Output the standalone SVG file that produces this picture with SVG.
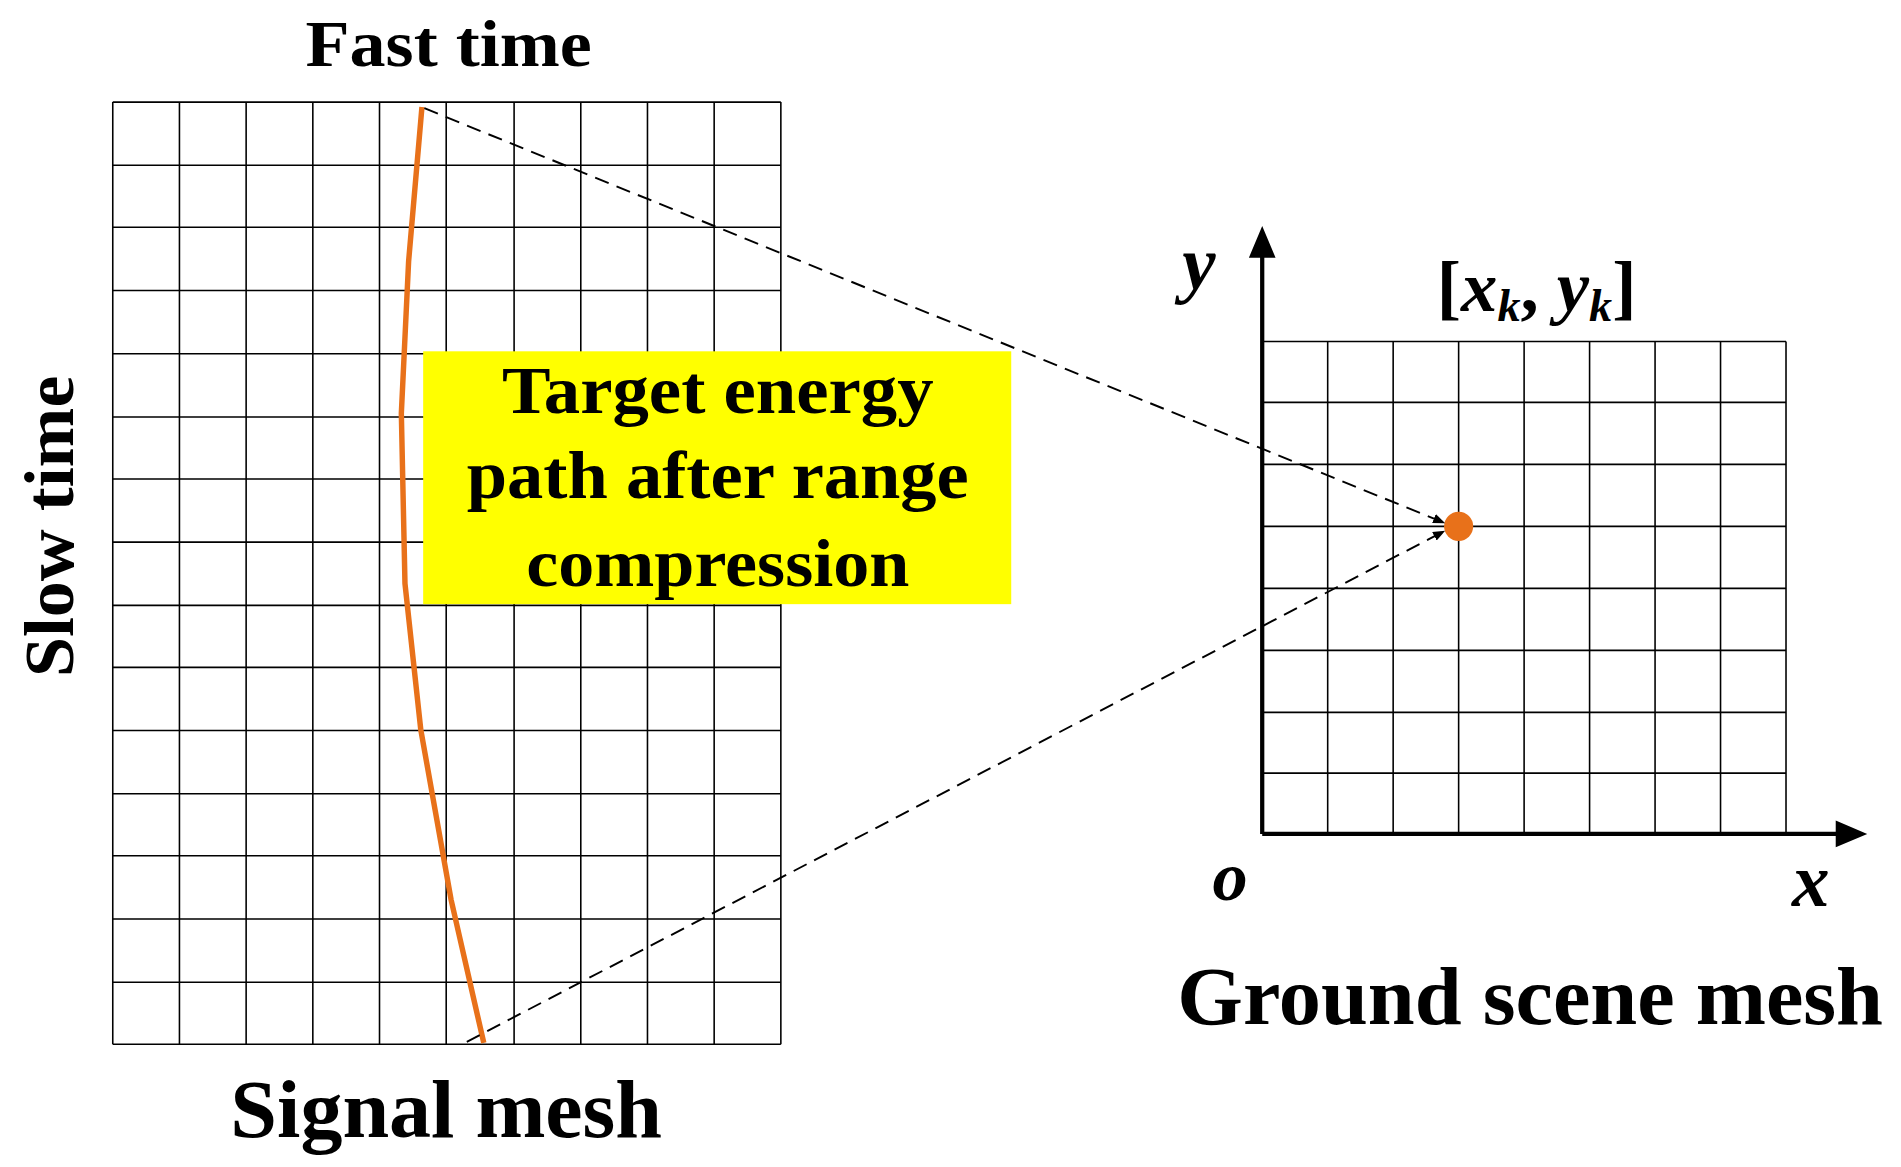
<svg xmlns="http://www.w3.org/2000/svg" width="1901" height="1167" viewBox="0 0 1901 1167">
<defs>
<style>
.g{stroke:#000;stroke-width:1.3;fill:none}
.t{font-family:"Liberation Serif",serif;font-weight:bold;fill:#000}
.i{font-style:italic}
</style>
<marker id="ah" markerWidth="10" markerHeight="8" refX="9" refY="4" orient="auto" markerUnits="userSpaceOnUse"><path d="M0,0L10,4L0,8z" fill="#000"/></marker>
</defs>
<rect width="1901" height="1167" fill="#fff"/>
<g transform="scale(1.2125,1.2156)">
<g id="signal-mesh">
<path class="g" d="M93,84V859M148,84V859M203,84V859M258,84V859M313,84V859M368,84V859M424,84V859M479,84V859M534,84V859M589,84V859M644,84V859"/>
<path class="g" d="M93,84H644M93,136H644M93,187H644M93,239H644M93,291H644M93,343H644M93,394H644M93,446H644M93,498H644M93,549H644M93,601H644M93,653H644M93,704H644M93,756H644M93,808H644M93,859H644"/>
<polyline points="348,88 337,215 331,340 334,480 347,600 372,740 399,858" fill="none" stroke="#E8711A" stroke-width="4.5"/>
</g>
<g id="ground-mesh">
<path class="g" d="M1041,281V686M1095,281V686M1149,281V686M1203,281V686M1257,281V686M1311,281V686M1365,281V686M1419,281V686M1473,281V686"/>
<path class="g" d="M1041,281H1473M1041,331H1473M1041,382H1473M1041,433H1473M1041,484H1473M1041,535H1473M1041,586H1473M1041,636H1473"/>
<path d="M1041,686V210M1041,686H1515" stroke="#000" stroke-width="3.5" fill="none"/>
<path d="M1041,186L1030,212H1052z M1540,686L1514,675V697z" fill="#000"/>
<circle cx="1203" cy="433" r="12" fill="#E8711A"/>
</g>
<g id="connectors">
<line x1="350" y1="89" x2="1191" y2="430" stroke="#000" stroke-width="1.6" stroke-dasharray="12,7" marker-end="url(#ah)"/>
<line x1="385" y1="857" x2="1191" y2="437" stroke="#000" stroke-width="1.6" stroke-dasharray="12,7" marker-end="url(#ah)"/>
</g>
<g id="label-box">
<rect x="349" y="289" width="485" height="208" fill="#FFFF00"/>
<text class="t" font-size="56" text-anchor="middle" x="592" y="340" textLength="356" lengthAdjust="spacingAndGlyphs">Target energy</text>
<text class="t" font-size="56" text-anchor="middle" x="592" y="410" textLength="414" lengthAdjust="spacingAndGlyphs">path after range</text>
<text class="t" font-size="56" text-anchor="middle" x="592" y="482" textLength="316" lengthAdjust="spacingAndGlyphs">compression</text>
</g>
<g id="labels">
<text class="t" font-size="54" text-anchor="middle" x="370" y="54" textLength="236" lengthAdjust="spacingAndGlyphs">Fast time</text>
<text class="t" font-size="58" text-anchor="middle" transform="translate(60,433) rotate(-90)" textLength="248" lengthAdjust="spacingAndGlyphs">Slow time</text>
<text class="t" font-size="68" text-anchor="middle" x="368" y="935" textLength="356" lengthAdjust="spacingAndGlyphs">Signal mesh</text>
<text class="t" font-size="68" text-anchor="middle" x="1262" y="842" textLength="582" lengthAdjust="spacingAndGlyphs">Ground scene mesh</text>
<text class="t i" font-size="62" x="975" y="238">y</text>
<text class="t" font-size="60" x="1185" y="256">[<tspan class="i">x</tspan><tspan class="i" font-size="38" dy="8">k</tspan><tspan dy="-8">, </tspan><tspan class="i">y</tspan><tspan class="i" font-size="38" dy="8">k</tspan><tspan dy="-8">]</tspan></text>
<text class="t i" font-size="58" x="1000" y="740">o</text>
<text class="t i" font-size="62" x="1478" y="745">x</text>
</g>
</g>
</svg>
